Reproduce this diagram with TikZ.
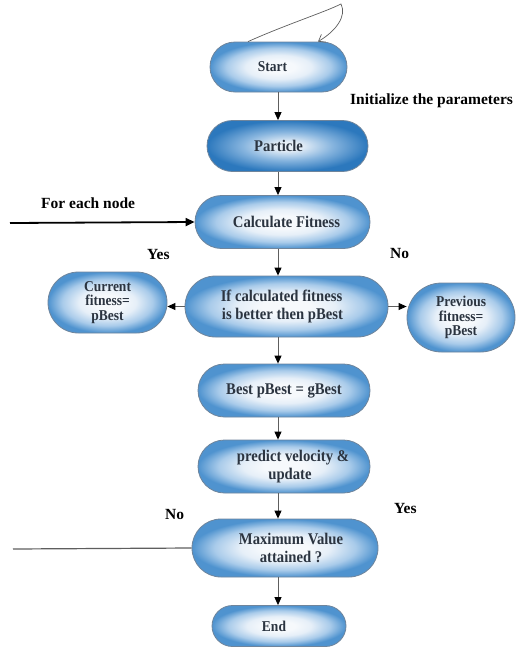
\documentclass[tikz,border=0pt]{standalone}
\usepackage{fontspec}
\setmainfont{Liberation Serif}
\newfontfamily\nodefont{Liberation Serif}[FakeStretch=0.9]
\usetikzlibrary{shapes.misc,arrows.meta,calc}
\definecolor{boxin}{HTML}{F6F9FC}
\definecolor{boxlt}{HTML}{E6EFF8}
\definecolor{boxmid}{HTML}{A9CBEA}
\definecolor{boxout}{HTML}{4F93CF}
\definecolor{pin}{HTML}{E8F0F8}
\definecolor{pmid}{HTML}{86B4DE}
\definecolor{pout}{HTML}{2C78BD}
\definecolor{edgec}{HTML}{6F859C}
\definecolor{txt}{HTML}{2B3440}
\definecolor{linec}{HTML}{5E5E5E}
\pgfdeclareradialshading{boxshade}{\pgfpoint{0bp}{0bp}}{color(0bp)=(boxin); color(6bp)=(boxin); color(12bp)=(boxlt); color(19bp)=(boxmid); color(25bp)=(boxout); color(50bp)=(boxout)}
\pgfdeclareradialshading{partshade}{\pgfpoint{0bp}{0bp}}{color(0bp)=(pin); color(4bp)=(pin); color(14bp)=(pmid); color(25bp)=(pout); color(50bp)=(pout)}
\tikzset{
  box/.style={rounded rectangle, draw=edgec, line width=0.8pt, shading=boxshade,
    text=txt, align=center, inner sep=0pt, font=\nodefont\bfseries\fontsize{16.3}{18}\selectfont},
  tight/.style={font=\nodefont\bfseries\fontsize{15}{14.5}\selectfont},
  lbl/.style={font=\bfseries\fontsize{15.5}{18}\selectfont, text=black, inner sep=0pt, anchor=west},
  arr/.style={draw=linec, line width=0.9pt, -{Triangle[length=8pt,width=7pt,color=black]}},
}
\begin{document}
\begin{tikzpicture}[x=1pt,y=-1pt]
\useasboundingbox (0,0) rectangle (517,648);
\fill[white] (0,0) rectangle (517,648);
\coordinate (ax) at (278,0);
% nodes
\node[box, minimum width=137pt, minimum height=50pt, font=\nodefont\bfseries\fontsize{15}{18}\selectfont] (start) at (278.5,67) {Start\hspace*{12pt}};
\node[box, shading=partshade, minimum width=161pt, minimum height=51pt] (particle) at (287.5,146) {Particle\hspace*{18pt}};
\node[box, minimum width=175pt, minimum height=53pt] (calc) at (282.5,222) {\hspace*{8pt}Calculate Fitness};
\node[box, minimum width=203pt, minimum height=61pt] (ifb) at (286.5,306.5) {If calculated fitness\hspace*{10pt}\\is better then pBest\hspace*{8pt}};
\node[box, tight, minimum width=119pt, minimum height=61pt] (cur) at (107.5,302.5) {Current\\fitness=\\pBest};
\node[box, tight, minimum width=108pt, minimum height=69pt] (prev) at (461,317.5) {Previous\\fitness=\\pBest};
\node[box, minimum width=172pt, minimum height=53pt] (best) at (284,390.5) {Best pBest = gBest};
\node[box, minimum width=172pt, minimum height=53pt] (pred) at (284,466.5) {\hspace*{18pt}predict velocity \&\\\hspace*{12pt}update};
\node[box, minimum width=186pt, minimum height=58pt] (maxv) at (285,548) {\hspace*{12pt}Maximum Value\\\hspace*{12pt}attained ?};
\node[box, minimum width=134pt, minimum height=41pt, font=\nodefont\bfseries\fontsize{15}{18}\selectfont] (endn) at (279,626) {End\hspace*{10pt}};
% labels
\node[lbl] (init) at (350,101) {Initialize the parameters};
\node[lbl] (foreach) at (41,203) {For each node};
\node[lbl] (yes1) at (147,254) {Yes};
\node[lbl] (no1) at (390,253) {No};
\node[lbl] (no2) at (165,514) {No};
\node[lbl] (yes2) at (394,508) {Yes};
% loop arc on top of Start
\coordinate (a1) at ($(start.north)+(-30.5,0)$);
\coordinate (a2) at ($(start.north)+(39.5,0)$);
\draw[draw=linec, line width=0.7pt, -{Straight Barb[length=6pt,width=9pt]}]
  (a1) .. controls (285,25) and (325,12) .. (341,4)
  .. controls (347,16) and (336,31) .. (a2);
% vertical arrows
\draw[arr] (start.south -| ax) -- (particle.north -| ax);
\draw[arr] (particle.south -| ax) -- (calc.north -| ax);
\draw[arr] (calc.south -| ax) -- (ifb.north -| ax);
\draw[arr] (ifb.south -| ax) -- (best.north -| ax);
\draw[arr] (best.south -| ax) -- (pred.north -| ax);
\draw[arr] (pred.south -| ax) -- (maxv.north -| ax);
\draw[arr] (maxv.south -| ax) -- (endn.north -| ax);
% side arrows
\draw[arr] (ifb.west) -- (ifb.west -| cur.east);
\draw[arr] (ifb.east) -- (ifb.east -| prev.west);
% for each node
\coordinate (fe) at (10,223);
\draw[draw=black, line width=1.8pt, -{Triangle[length=9pt,width=8pt]}] (fe) -- (calc.west);
% no line
\coordinate (nl) at (13,549);
\draw[draw=linec, line width=1.2pt] (nl) -- (maxv.west);
\end{tikzpicture}
\end{document}
